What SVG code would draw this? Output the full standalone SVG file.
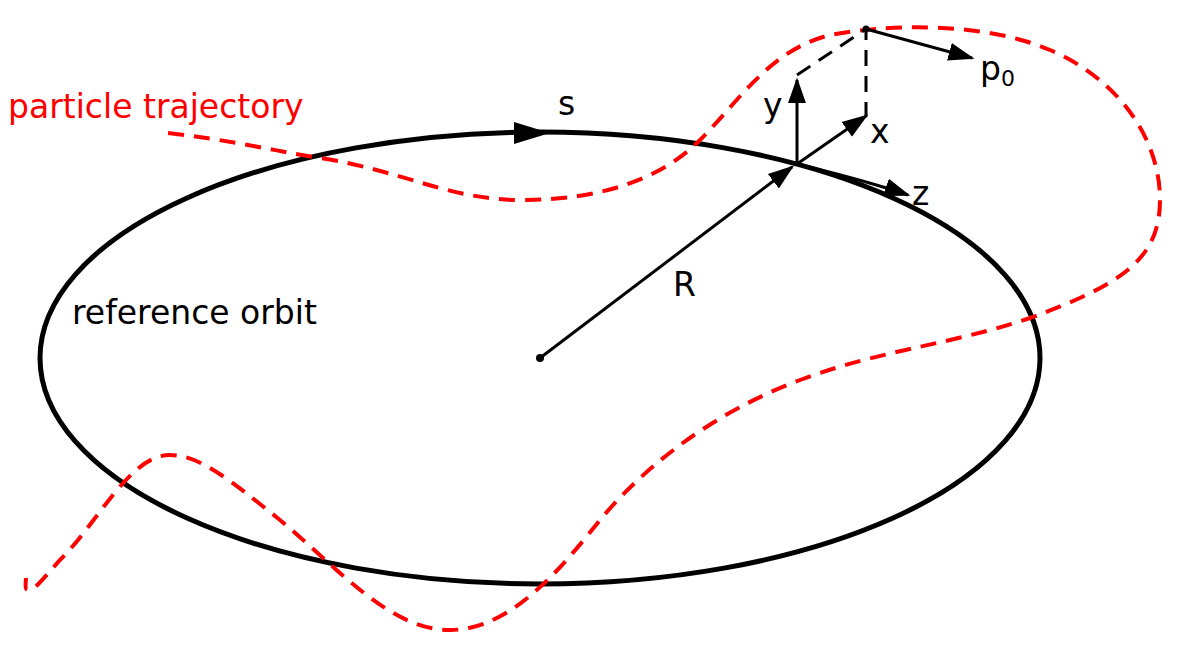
<svg xmlns="http://www.w3.org/2000/svg" width="1184" height="657" viewBox="0 0 1184 657">
<style>
text{font-family:"DejaVu Sans",sans-serif;font-size:33px;fill:#000}
.ax{stroke:#000;stroke-width:3;fill:none}
</style>
<defs>
<marker id="ah" viewBox="0 0 10 10" refX="9" refY="5" markerWidth="8" markerHeight="8" markerUnits="userSpaceOnUse" orient="auto"><path d="M0,0 L10,5 L0,10 Z" fill="#000"/></marker>
<marker id="a2" viewBox="0 0 10 10" refX="9" refY="5" markerWidth="26" markerHeight="26" markerUnits="userSpaceOnUse" orient="auto"><path d="M0,1.5 L10,5 L0,8.5 Z" fill="#000"/></marker>
</defs>
<rect width="1184" height="657" fill="#fff"/>
<g id="orbit">
<ellipse cx="540" cy="358" rx="500" ry="226" fill="none" stroke="#000" stroke-width="5"/>
<path d="M514,122 L550,133 L514,144 Z" fill="#000"/>
<circle cx="540" cy="358" r="4" fill="#000"/>
</g>
<g id="trajectory">
<path d="M168,133 C230,140 270,150 320,158 C400,170 450,200 520,200 C600,200 660,180 700,140 C740,100 770,50 830,35 C880,25 980,20 1050,50 C1120,80 1160,140 1160,200 C1160,260 1120,285 1030,318 C950,345 880,350 800,380 C720,410 650,460 600,520 C560,570 510,630 450,630 C390,630 340,570 280,520 C230,480 200,455 170,455 C130,455 100,520 60,560 C40,582 35,590 28,590 C24,590 26,582 26,578" fill="none" stroke="#f00" stroke-width="4" stroke-dasharray="16,10"/>
</g>
<g id="connectors">
<line class="ax" x1="540" y1="358" x2="792" y2="167" marker-end="url(#a2)"/>
<line class="ax" x1="797" y1="164" x2="797" y2="80" marker-end="url(#a2)"/>
<line class="ax" x1="797" y1="164" x2="866" y2="116" marker-end="url(#a2)"/>
<path class="ax" d="M797,164 C830,172 870,182 908,195" marker-end="url(#a2)"/>
<line class="ax" x1="866" y1="29" x2="972" y2="58" marker-end="url(#a2)"/>
<path class="ax" d="M797,75 L866,29 L866,117" stroke-dasharray="16,10"/>
<circle cx="866" cy="29" r="3.5" fill="#000"/>
</g>
<g id="labels">
<text x="8" y="118" style="fill:#f00">particle trajectory</text>
<text x="558" y="115">s</text>
<text x="72" y="324">reference orbit</text>
<text x="673" y="296">R</text>
<text x="763" y="117">y</text>
<text x="870" y="143">x</text>
<text x="912" y="205">z</text>
<text x="980" y="80">p<tspan font-size="22" dy="6">0</tspan></text>
</g>
</svg>
